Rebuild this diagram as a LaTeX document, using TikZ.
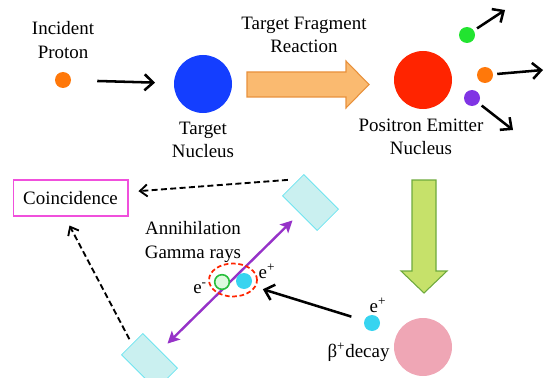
\documentclass[tikz,border=0pt]{standalone}
\usepackage{fontspec}
\setmainfont{Liberation Serif}
\usetikzlibrary{arrows.meta,shapes.geometric}
\definecolor{protonorange}{RGB}{255,120,10}
\definecolor{nucblue}{RGB}{20,62,255}
\definecolor{emitred}{RGB}{255,36,0}
\definecolor{decaypink}{RGB}{239,166,181}
\definecolor{posicyan}{RGB}{55,212,240}
\definecolor{fraggreen}{RGB}{34,228,48}
\definecolor{fragpurple}{RGB}{128,52,228}
\definecolor{elecfill}{RGB}{222,250,222}
\definecolor{elecedge}{RGB}{40,190,60}
\definecolor{detfill}{RGB}{202,240,240}
\definecolor{detedge}{RGB}{110,228,240}
\definecolor{gammapurple}{RGB}{150,50,200}
\definecolor{boxmagenta}{RGB}{240,80,220}
\definecolor{reactfill}{RGB}{250,186,112}
\definecolor{reactedge}{RGB}{232,145,60}
\definecolor{decayfill}{RGB}{198,225,106}
\definecolor{decayedge}{RGB}{110,170,60}
\tikzset{push/.style = {-{Straight Barb[length=6.5pt,width=12pt]}, line width=1.9pt},
         signal/.style = {-{Straight Barb[length=5.5pt,width=9pt]}, line width=1.4pt, dash pattern=on 4.5pt off 2.5pt},
         gamma/.style = {{Stealth[length=9pt,width=9pt,inset=2pt]}-{Stealth[length=9pt,width=9pt,inset=2pt]}, line width=1.8pt, draw=gammapurple},
         dot/.style = {circle, inner sep=0pt, minimum size=12pt},
         nucleus/.style = {circle, inner sep=0pt, minimum size=43.5pt},
         lbl/.style = {align=center, inner sep=0pt},
         detector/.style = {rectangle, draw=detedge, fill=detfill, line width=0.6pt, inner sep=0pt,
                            minimum width=36.75pt, minimum height=22.5pt, rotate=-45}}

\begin{document}
\begin{tikzpicture}[x=0.75pt, y=-0.75pt, font=\fontsize{14.2}{17.3}\selectfont]
  \useasboundingbox (0,0) rectangle (546,378);
  % top row: proton hits target
  \node[lbl] (inctext) at (63,40) {Incident\\Proton};
  \node[dot, fill=protonorange] (proton) at (63,80) {};
  \node[nucleus, fill=nucblue] (target) at (203,84) {};
  \node[lbl] (targettext) at (203,139.5) {Target\\Nucleus};
  \draw[push, shorten <=19.5pt, shorten >=14pt] (proton) -- (target);
  \filldraw[fill=reactfill, draw=reactedge, line width=0.8pt]
    (247,72) -- (346,72) -- (346,61) -- (369,84.5) -- (346,108) -- (346,97) -- (247,97) -- cycle;
  \node[lbl] (reacttext) at (304,35) {Target Fragment\\Reaction};
  \node[nucleus, fill=emitred] (emitter) at (423,80) {};
  \node[lbl] (emittext) at (421,137) {Positron Emitter\\Nucleus};
  % fragments
  \node[dot, fill=fraggreen] (fragA) at (467,35) {};
  \node[dot, fill=protonorange] (fragB) at (485,75) {};
  \node[dot, fill=fragpurple] (fragC) at (472,98) {};
  \coordinate (fragAend) at (505,10);
  \coordinate (fragBend) at (543,70);
  \coordinate (fragCend) at (513,130);
  \draw[push, shorten <=2.8pt] (fragA) -- (fragAend);
  \draw[push, shorten <=3pt] (fragB) -- (fragBend);
  \draw[push, shorten <=3pt] (fragC) -- (fragCend);
  % decay
  \filldraw[fill=decayfill, draw=decayedge, line width=0.8pt]
    (412,180) -- (436,180) -- (436,271) -- (447,271) -- (424,293) -- (401,271) -- (412,271) -- cycle;
  \node[nucleus, fill=decaypink] (decayed) at (423,347) {};
  \node[dot, fill=posicyan] (posi) at (372,323) {};
  \node[anchor=base, inner sep=0pt] (posilabel) at (378,312) {e\textsuperscript{+}};
  \node[anchor=base, inner sep=0pt] (betatext) at (358.5,357) {β\textsuperscript{+}decay};
  % detectors and annihilation
  \node[detector] (detA) at (310.5,202.5) {};
  \node[detector] (detB) at (149.5,361.5) {};
  \draw[gamma, shorten <=7.5pt, shorten >=7.5pt] (detB.north) -- (detA.south);
  \node[ellipse, draw=emitred, dash pattern=on 3.5pt off 2pt, line width=1.3pt,
        minimum width=36pt, minimum height=24.75pt, inner sep=0pt] (pair) at (233,280) {};
  \node[dot, fill=elecfill, draw=elecedge, line width=1.2pt, minimum size=11pt] (elec) at (222,282) {};
  \node[dot, fill=posicyan] (posiB) at (244,281) {};
  \node[anchor=base, inner sep=0pt] (eleclabel) at (200,293) {e\textsuperscript{-}};
  \node[anchor=base, inner sep=0pt] (posiBlabel) at (267,278) {e\textsuperscript{+}};
  \node[lbl] (gammatext) at (193,242) {Annihilation\\Gamma rays};
  \draw[push, shorten <=10pt, shorten >=5.6pt] (posi) -- (pair);
  % coincidence
  \node[draw=boxmagenta, line width=1pt, minimum width=86pt, minimum height=27pt, inner sep=0pt] (coinc) at (70.5,198) {Coincidence};
  \coordinate (detAout) at ([shift={(-5,-5)}]detA.west);
  \draw[signal, shorten >=7.5pt] (detAout) -- (coinc.6);
  \draw[signal, shorten <=4pt, shorten >=7.5pt] (detB.west) -- (coinc.253);
\end{tikzpicture}
\end{document}
